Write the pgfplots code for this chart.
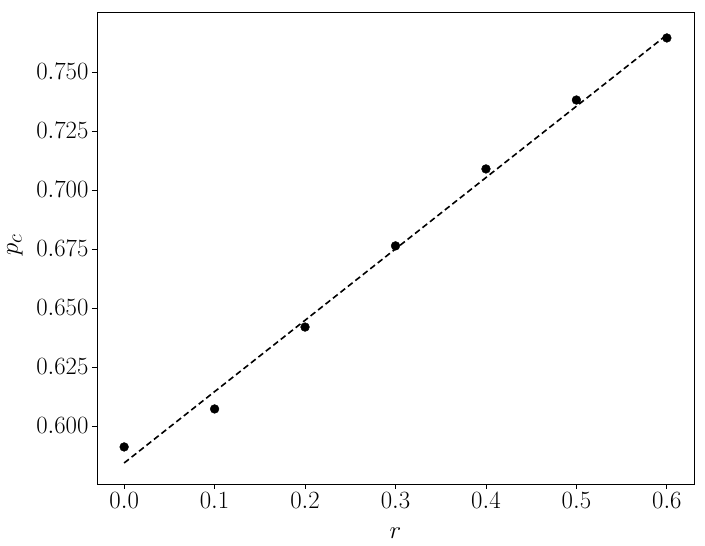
\documentclass[border=0pt]{standalone}
\usepackage{pgfplots}
\pgfplotsset{compat=1.18}
\begin{document}
\begin{tikzpicture}[x=1bp,y=1bp]
\path[use as bounding box] (-97,-62) rectangle (608,484);
\begin{axis}[
  at={(0,0)}, anchor=south west,
  scale only axis,
  width=597bp, height=472bp,
  xmin=-0.03, xmax=0.63,
  ymin=0.5754, ymax=0.7754,
  xtick={0,0.1,...,0.6},
  ytick={0.600,0.625,0.650,0.675,0.700,0.725,0.750},
  xticklabel style={/pgf/number format/.cd,fixed,fixed zerofill,precision=1},
  yticklabel style={/pgf/number format/.cd,fixed,fixed zerofill,precision=3},
  tick label style={font=\Huge},
  xlabel={$r$}, ylabel={$p_c$},
  every axis x label/.style={at={(axis description cs:0.5,0)}, anchor=north, yshift=-40bp, font=\Huge},
  every axis y label/.style={at={(axis description cs:0,0.5)}, xshift=-82bp, yshift=3bp, rotate=90, anchor=center, font=\Huge},
  tick align=outside, xtick pos=left, ytick pos=left,
  major tick length=5bp,
  axis line style={line width=0.9bp},
  every tick/.style={black, line width=0.8bp},
]
\addplot[black, dashed, line width=1.6bp, dash pattern=on 6bp off 3.5bp] coordinates {
  (0.0, 0.5843) (0.6, 0.7657)
};
\addplot[only marks, mark=*, mark size=4.4bp, black] coordinates {
  (0.0, 0.5911) (0.1, 0.6072) (0.2, 0.6419) (0.3, 0.6763)
  (0.4, 0.7089) (0.5, 0.7381) (0.6, 0.7644)
};
\end{axis}
\end{tikzpicture}
\end{document}
